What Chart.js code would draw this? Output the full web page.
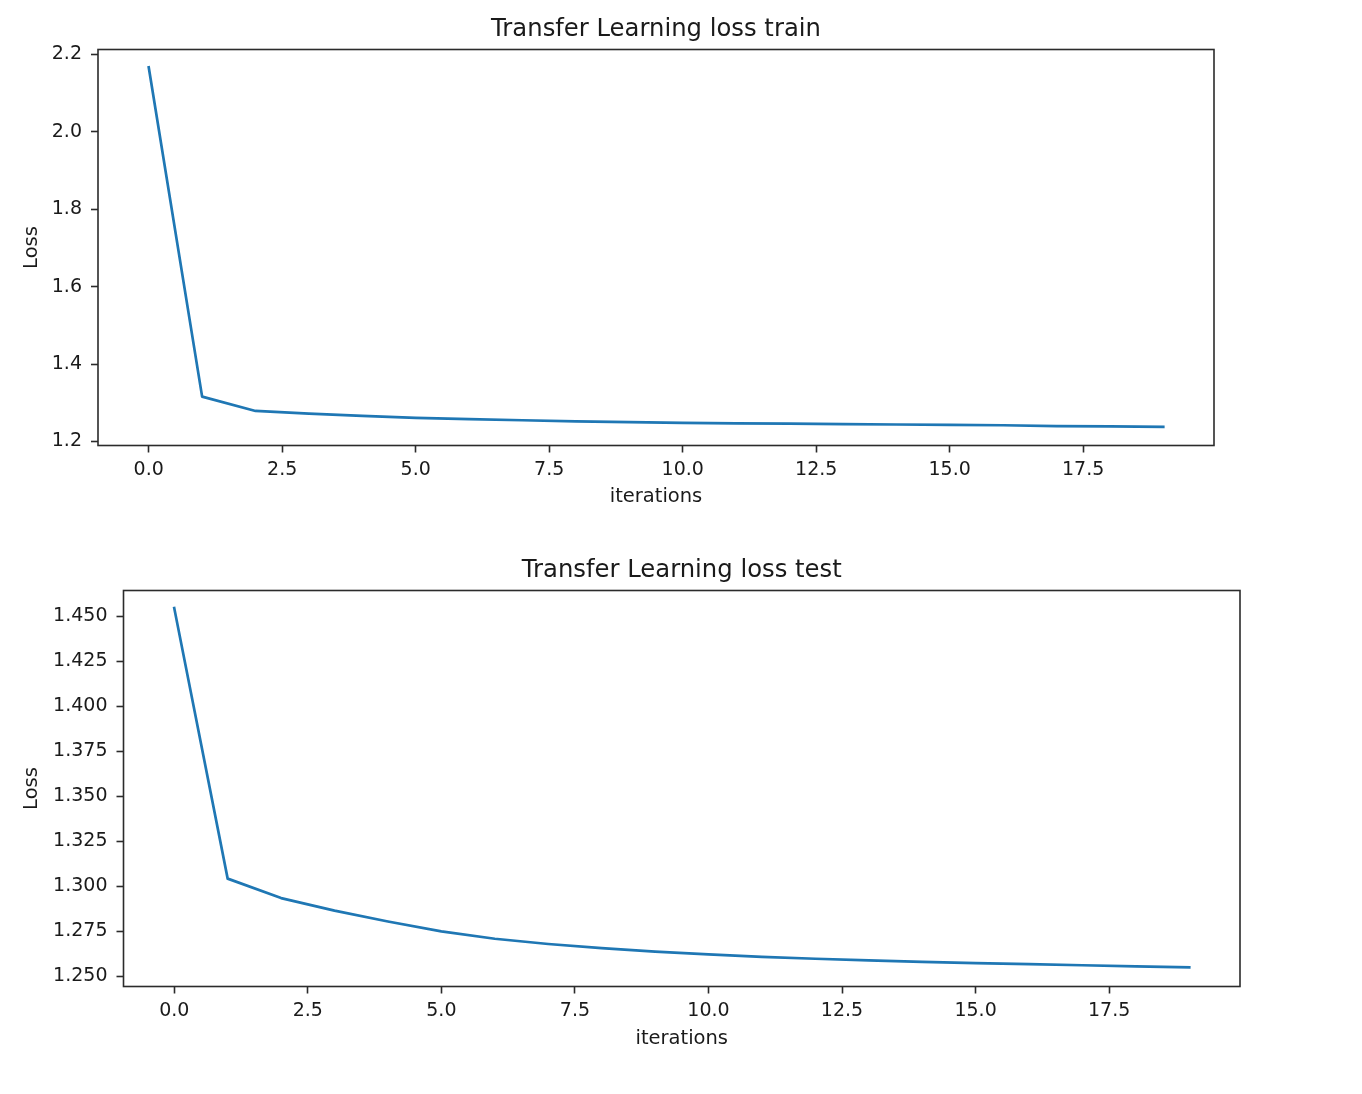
<!DOCTYPE html>
<html><head><meta charset="utf-8">
<script src="https://cdn.jsdelivr.net/npm/chart.js@4"></script>
<style>
html,body{margin:0;padding:0;background:#fff;}
body{width:1362px;height:1094px;position:relative;overflow:hidden;}
.box{position:absolute;left:0;width:1362px;}
#b1{top:0;height:540px;}
#b2{top:540px;height:554px;}
</style></head><body>
<div class="box" id="b1"><canvas id="c1"></canvas></div>
<div class="box" id="b2"><canvas id="c2"></canvas></div>
<script>
// ---- data ----
const iterations = [0,1,2,3,4,5,6,7,8,9,10,11,12,13,14,15,16,17,18,19];
const trainLoss = [2.167,1.316,1.279,1.272,1.266,1.261,1.258,1.255,1.252,1.250,1.248,1.247,1.246,1.245,1.244,1.243,1.242,1.240,1.239,1.238];
const testLoss = [1.4545,1.3043,1.2935,1.2865,1.2805,1.2750,1.2709,1.2680,1.2657,1.2638,1.2622,1.2609,1.2598,1.2589,1.2581,1.2574,1.2568,1.2562,1.2556,1.2550];
const xTicks = [0,2.5,5,7.5,10,12.5,15,17.5];
const trainYTicks = [1.2,1.4,1.6,1.8,2.0,2.2];
const testYTicks = [1.250,1.275,1.300,1.325,1.350,1.375,1.400,1.425,1.450];
const xRange = [-0.95, 19.95];
const trainYRange = [1.1897, 2.2129];
const testYRange = [1.2444, 1.4643];
const titles = ['Transfer Learning loss train', 'Transfer Learning loss test'];
const xLabel = 'iterations';
const yLabel = 'Loss';

// ---- style ----
const FONT = "'DejaVu Sans', sans-serif";
const TEXT = '#1a1a1a';
const SPINE = '#2b2b2b';
const LINE = '#1f77b4';

const spines = {
  id: 'spines',
  afterDatasetsDraw(chart) {
    const a = chart.chartArea, ctx = chart.ctx;
    ctx.save();
    ctx.strokeStyle = SPINE;
    ctx.lineWidth = 1.6;
    ctx.strokeRect(a.left, a.top, a.right - a.left, a.bottom - a.top);
    ctx.restore();
  }
};

function makeChart(id, title, values, yTicks, yRange, yDec, g) {
  const titleLH = g.titleSize * 1.2;
  const labLH = g.labSize * 1.2;
  return new Chart(document.getElementById(id), {
    type: 'line',
    data: {
      datasets: [{
        data: iterations.map((x, i) => ({x: x, y: values[i]})),
        borderColor: LINE,
        borderWidth: 2.7,
        pointRadius: 0,
        tension: 0,
        fill: false,
        borderJoinStyle: 'round',
        borderCapStyle: 'square'
      }]
    },
    options: {
      responsive: true,
      maintainAspectRatio: false,
      animation: false,
      events: [],
      layout: { padding: { left: g.padLeft, right: 1362 - g.right, top: 0, bottom: 0 } },
      plugins: {
        legend: { display: false },
        tooltip: { enabled: false },
        title: {
          display: true, text: title, color: TEXT, fullSize: false,
          font: { family: FONT, size: g.titleSize, weight: 'normal', lineHeight: 1.2 },
          padding: { top: g.titleCenter - titleLH / 2, bottom: g.top - (g.titleCenter + titleLH / 2) }
        }
      },
      scales: {
        x: {
          type: 'linear', min: xRange[0], max: xRange[1],
          afterBuildTicks: s => { s.ticks = xTicks.map(v => ({value: v})); },
          afterFit: s => { s.height = g.h - g.bottom; },
          grid: { display: true, drawOnChartArea: false, drawTicks: true, tickLength: 7, tickColor: SPINE, tickWidth: 1.6 },
          border: { display: false },
          ticks: { color: TEXT, padding: 6, maxRotation: 0, autoSkip: false,
                   font: { family: FONT, size: g.tickSize },
                   callback: v => Number(v).toFixed(1) },
          title: { display: true, text: xLabel, color: TEXT,
                   font: { family: FONT, size: g.labSize, lineHeight: 1.2 },
                   padding: { top: 0, bottom: g.h - g.xLabelCenter - labLH / 2 } }
        },
        y: {
          type: 'linear', min: yRange[0], max: yRange[1],
          afterBuildTicks: s => { s.ticks = yTicks.map(v => ({value: v})); },
          afterFit: s => { s.width = g.left - g.padLeft; },
          grid: { display: true, drawOnChartArea: false, drawTicks: true, tickLength: 7, tickColor: SPINE, tickWidth: 1.6 },
          border: { display: false },
          ticks: { color: TEXT, padding: 9, autoSkip: false,
                   font: { family: FONT, size: g.tickSize },
                   callback: v => Number(v).toFixed(yDec) },
          title: { display: true, text: yLabel, color: TEXT,
                   font: { family: FONT, size: g.labSize, lineHeight: 1.2 },
                   padding: { top: g.yLabelCenter - g.padLeft - labLH / 2, bottom: 0 } }
        }
      }
    },
    plugins: [spines]
  });
}

makeChart('c1', titles[0], trainLoss, trainYTicks, trainYRange, 1,
  { h: 540, left: 98, right: 1214, top: 49.5, bottom: 445.5, padLeft: 8,
    titleCenter: 30, xLabelCenter: 497, yLabelCenter: 32,
    titleSize: 24.3, tickSize: 19, labSize: 19.5 });
makeChart('c2', titles[1], testLoss, testYTicks, testYRange, 3,
  { h: 554, left: 123.5, right: 1240, top: 50.5, bottom: 446.5, padLeft: 8,
    titleCenter: 31, xLabelCenter: 499, yLabelCenter: 32,
    titleSize: 24.3, tickSize: 19, labSize: 19.5 });
</script>
</body></html>
